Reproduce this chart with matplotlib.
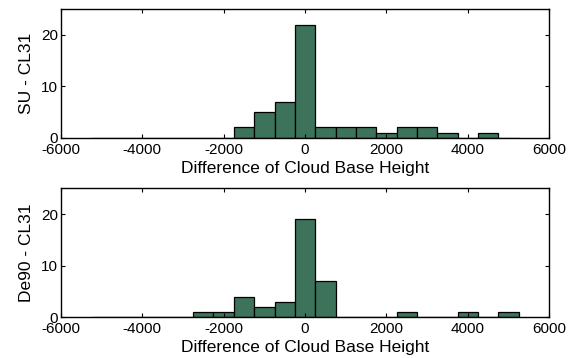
import numpy as np
import matplotlib.pyplot as plt

plt.rcParams['font.family'] = ['Liberation Sans', 'DejaVu Sans']
plt.rcParams['axes.unicode_minus'] = False

# bin centres (m), bins are 500 m wide
centers = np.arange(-5000, 5001, 500)

# counts, one per bin centre
su_counts = [0, 0, 0, 0, 0, 0, 0, 2, 5, 7, 22, 2, 2, 2, 1, 2, 2, 1, 0, 1, 0]
de90_counts = [0, 0, 0, 0, 0, 1, 1, 4, 2, 3, 19, 7, 0, 0, 0, 1, 0, 0, 1, 0, 1]

ylabels = ['SU - CL31', 'De90 - CL31']
xlabel = 'Difference of Cloud Base Height'
bar_color = '#3c735a'

fig = plt.figure(figsize=(5.77, 3.58), dpi=100)
ax1 = fig.add_axes([0.1057, 0.6154, 0.8458, 0.3587])
ax2 = fig.add_axes([0.1057, 0.1137, 0.8458, 0.3603])

for ax, counts, lab in zip([ax1, ax2], [su_counts, de90_counts], ylabels):
    ax.bar(centers, counts, width=500, color=bar_color,
           edgecolor='black', linewidth=0.9)
    ax.set_xlim(-6000, 6000)
    ax.set_ylim(0, 25)
    ax.set_xticks(np.arange(-6000, 6001, 2000))
    ax.set_yticks([0, 10, 20])
    ax.tick_params(direction='in', top=True, right=True, length=3,
                   width=0.8, labelsize=11, pad=2)
    ax.tick_params(axis='x', pad=3.5)
    for s in ax.spines.values():
        s.set_linewidth(1.0)
    ax.set_ylabel(lab, fontsize=12.5, labelpad=5)
    ax.set_xlabel(xlabel, fontsize=12.5, labelpad=3)

fig.savefig('out.png', dpi=100)
